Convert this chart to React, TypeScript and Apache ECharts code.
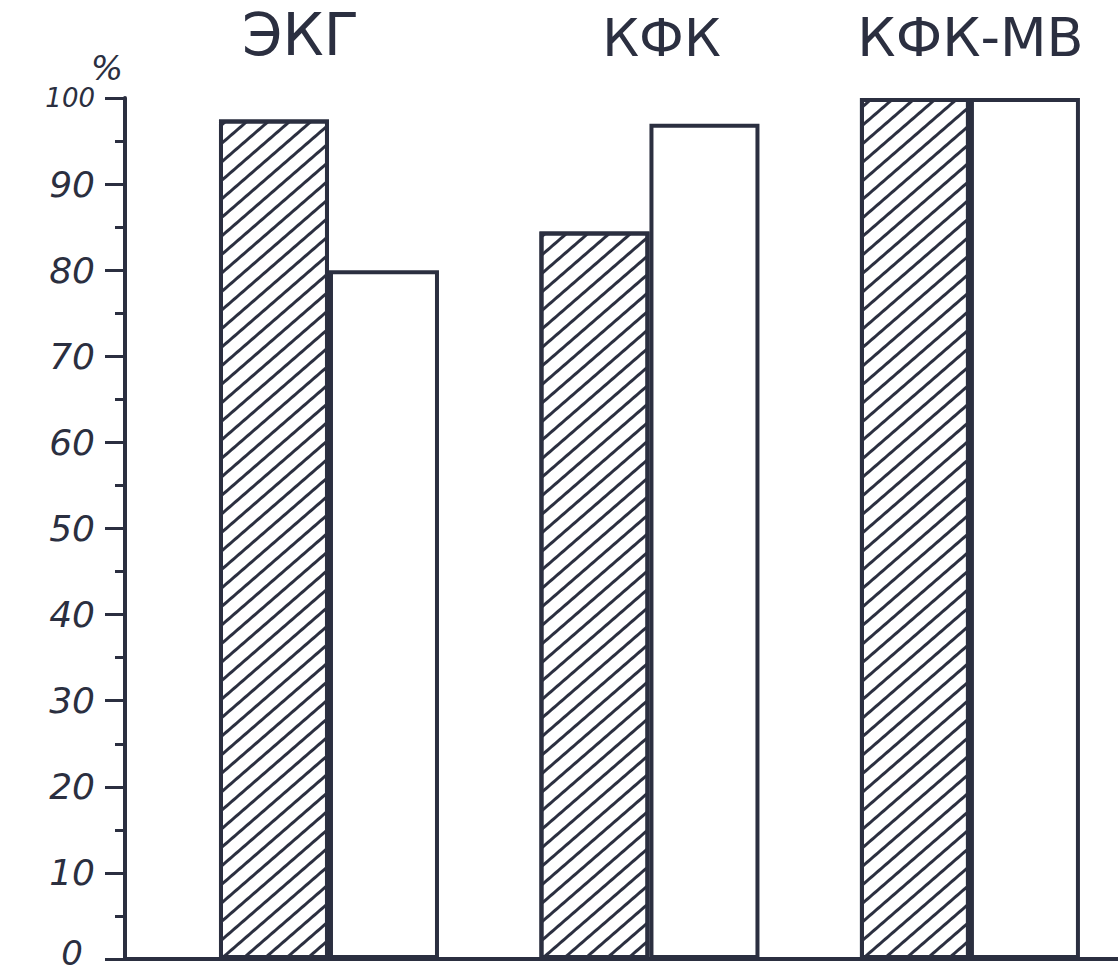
import React, { useEffect, useRef } from "react";
import * as echarts from "echarts";

const categories = ["ЭКГ", "КФК", "КФК-МВ"];
const hatchedValues = [97.5, 84.5, 100];
const plainValues = [80, 97, 100];
const yTicks = [0, 10, 20, 30, 40, 50, 60, 70, 80, 90, 100];

const INK = "#2b2f40";

export default function App() {
  const ref = useRef<HTMLDivElement>(null);
  useEffect(() => {
    if (!ref.current) return;
    const chart = echarts.init(ref.current, undefined, { renderer: "svg" });
    const barStyle = {
      color: "#ffffff",
      borderColor: INK,
      borderWidth: 4,
    };
    chart.setOption({
      animation: false,
      backgroundColor: "#ffffff",
      grid: { left: 125, right: 0, top: 98, bottom: 14, outerBoundsMode: "none", containLabel: false },
      xAxis: [
        {
          type: "value",
          min: -0.6365,
          max: 2.462,
          position: "bottom",
          axisLine: { show: true, onZero: false, lineStyle: { color: INK, width: 4 } },
          axisTick: { show: false },
          axisLabel: { show: false },
          splitLine: { show: false },
        },
        {
          type: "category",
          data: categories,
          position: "top",
          axisLine: { show: false, onZero: false },
          axisTick: { show: false },
          splitLine: { show: false },
          axisLabel: {
            interval: 0,
            margin: 34,
            color: INK,
            fontSize: 56,
            fontFamily: "DejaVu Sans",
            formatter: (v: string) => {
              const i = categories.indexOf(v);
              return ["{a|" + v + "}", "{b|" + v + "}", "{c|" + v + "}"][i];
            },
            rich: {
              a: {
                fontSize: 58,
                lineHeight: 58,
                color: INK,
                fontFamily: "DejaVu Sans",
                padding: [0, 0, 0, 20],
              },
              b: { fontSize: 52, color: INK, fontFamily: "DejaVu Sans", padding: [0, 0, 0, 80] },
              c: { fontSize: 54, color: INK, fontFamily: "DejaVu Sans", padding: [0, 0, 0, 36] },
            },
          },
        },
      ],
      yAxis: {
        type: "value",
        min: yTicks[0],
        max: yTicks[yTicks.length - 1],
        interval: 10,
        name: "%",
        nameLocation: "end",
        nameGap: 6,
        nameTextStyle: {
          color: INK,
          fontSize: 34,
          fontStyle: "italic",
          fontFamily: "DejaVu Sans",
          align: "right",
          padding: [0, 2, 0, 0],
        },
        axisLine: { show: true, onZero: false, lineStyle: { color: INK, width: 4 } },
        axisTick: { show: true, length: 20, lineStyle: { color: INK, width: 3 } },
        minorTick: { show: true, splitNumber: 2, length: 10, lineStyle: { color: INK, width: 3 } },
        splitLine: { show: false },
        axisLabel: {
          margin: 30,
          color: INK,
          fontSize: 36,
          fontStyle: "italic",
          fontFamily: "DejaVu Sans",
          formatter: (v: number) =>
            v === 100 ? "{s|" + v + "}" : v === 0 ? "{z|" + v + "}" : "{n|" + v + "}",
          rich: {
            s: { fontSize: 26, fontStyle: "italic", color: INK, fontFamily: "DejaVu Sans" },
            n: { fontSize: 36, fontStyle: "italic", color: INK, fontFamily: "DejaVu Sans" },
            z: {
              fontSize: 34,
              lineHeight: 34,
              fontStyle: "italic",
              color: INK,
              fontFamily: "DejaVu Sans",
              padding: [0, 12, 12, 0],
            },
          },
        },
      },
      series: [
        {
          type: "bar",
          name: "hatched",
          xAxisIndex: 0,
          barWidth: 110,
          barGap: "0%",
          data: hatchedValues.map((v, i) => [i, v]),
          itemStyle: {
            ...barStyle,
            decal: {
              symbol: "rect",
              symbolSize: 1,
              dashArrayX: [1, 0],
              dashArrayY: [3, 11],
              rotation: -Math.PI / 4.4,
              color: INK,
              backgroundColor: "#ffffff",
            },
          },
        },
        {
          type: "bar",
          name: "plain",
          xAxisIndex: 0,
          barWidth: 110,
          barGap: "0%",
          data: plainValues.map((v, i) => [i, v]),
          itemStyle: barStyle,
        },
      ],
    });
    return () => chart.dispose();
  }, []);
  return (
    <div
      ref={ref}
      style={{ position: "absolute", left: 0, top: 0, width: 1118, height: 973 }}
    />
  );
}
